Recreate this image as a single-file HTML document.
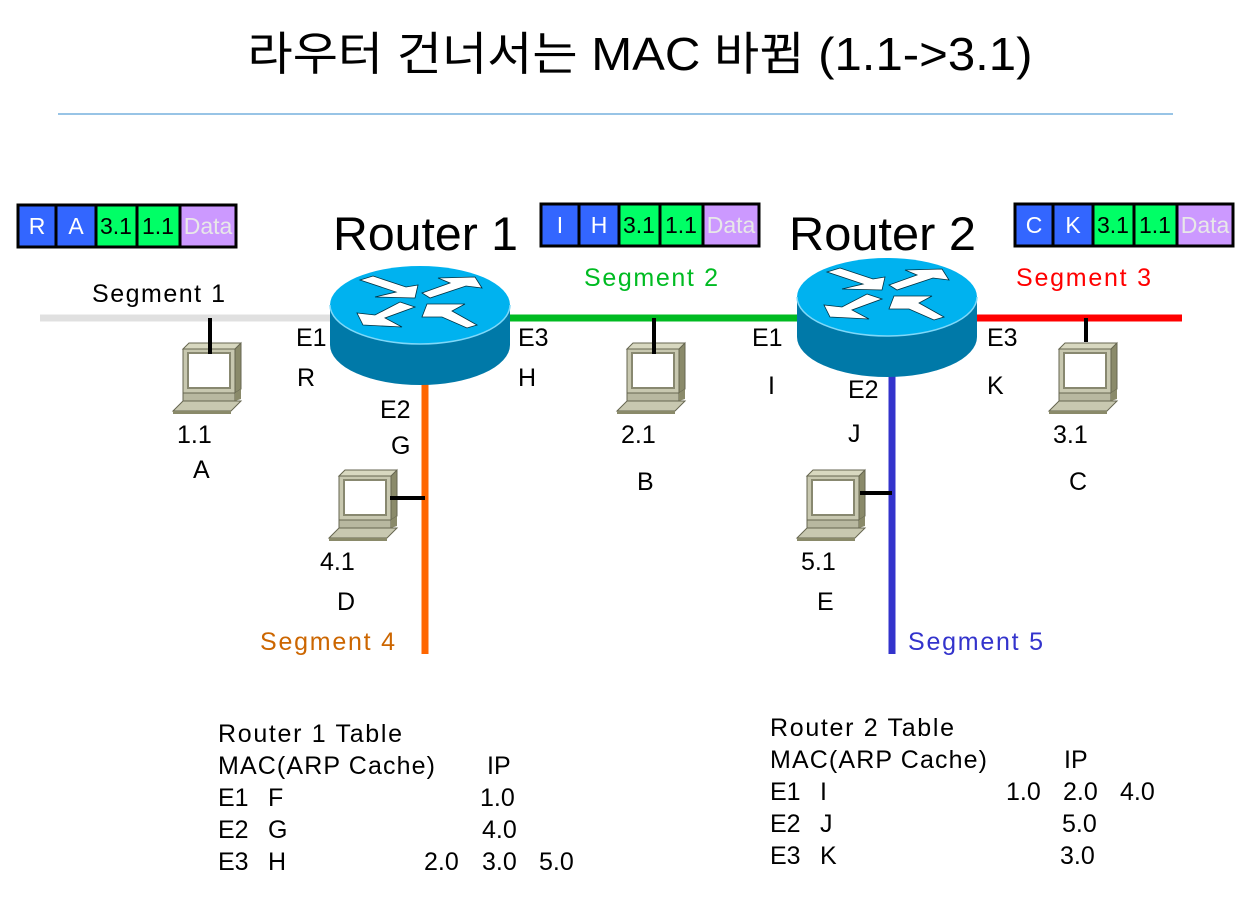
<!DOCTYPE html>
<html><head><meta charset="utf-8"><style>
html,body{margin:0;padding:0;background:#fff;}
svg{display:block;font-family:"Liberation Sans","Noto Sans CJK KR",sans-serif;}
</style></head><body>
<svg width="1260" height="919" viewBox="0 0 1260 919" xmlns="http://www.w3.org/2000/svg">
<defs>
<g id="pc">
  <polygon points="0,6 6,0 58,0 58,6" fill="#d8d8c0" stroke="#666650" stroke-width="1"/>
  <polygon points="52,6 58,0 58,46 52,50" fill="#8a8a6a" stroke="#666650" stroke-width="1"/>
  <rect x="0" y="6" width="52" height="44" fill="#c8c8b0" stroke="#666650" stroke-width="1"/>
  <rect x="5" y="10" width="42" height="35" fill="#fff" stroke="#888870" stroke-width="2"/>
  <rect x="0" y="50" width="52" height="8" fill="#b8b8a0" stroke="#666650" stroke-width="1"/>
  <polygon points="52,50 58,46 58,56 52,58" fill="#8a8a6a"/>
  <polygon points="-10,68 0,58 58,58 48,68" fill="#c8c8b0" stroke="#666650" stroke-width="1"/>
  <polygon points="-10,68 48,68 48,71 -10,71" fill="#8a8a6a"/>
</g>
<g id="router">
  <path d="M-90,0 L-90,40 A90,40 0 0 0 90,40 L90,0 Z" fill="#0079a8"/>
  <ellipse cx="0" cy="0" rx="90" ry="39" fill="#00b2ef"/>
  <path d="M-90,0 A90,39 0 0 0 90,0" fill="none" stroke="#7fd8f8" stroke-width="1.5"/>
  <g fill="#fff" stroke="#003040" stroke-width="0.8">
  <polygon points="-47,-29 -14,-18 -2,-20 -5,-7 -45,-8 -24,-13 -60,-25"/>
  <polygon points="2,-12 30,-22 18,-27 55,-28 62,-17 46,-19 10,-7"/>
  <polygon points="-20,-3 -5,2 -35,13 -18,22 -57,20 -63,8 -45,10"/>
  <polygon points="7,-1 45,-1 32,6 57,20 47,23 22,12 2,12"/>
  </g>
</g>
</defs>

<text x="640" y="70" font-size="46" text-anchor="middle" textLength="785" lengthAdjust="spacingAndGlyphs" fill="#000">라우터 건너서는 MAC 바뀜 (1.1-&gt;3.1)</text>
<line x1="58" y1="114" x2="1173" y2="114" stroke="#5aa0d8" stroke-width="1.2"/>

<line x1="40" y1="318" x2="340" y2="318" stroke="#e0e0e0" stroke-width="7"/>
<line x1="505" y1="318" x2="805" y2="318" stroke="#00bb22" stroke-width="7"/>
<line x1="970" y1="318" x2="1182" y2="318" stroke="#ff0000" stroke-width="7"/>
<line x1="425" y1="380" x2="425" y2="654" stroke="#ff6600" stroke-width="7"/>
<line x1="892" y1="370" x2="892" y2="654" stroke="#3333cc" stroke-width="7"/>

<use href="#router" x="420" y="305"/>
<use href="#router" x="887" y="297"/>

<use href="#pc" x="183" y="343"/>
<line x1="210" y1="318" x2="210" y2="354" stroke="#000" stroke-width="4"/>
<use href="#pc" x="627" y="343"/>
<line x1="654" y1="318" x2="654" y2="354" stroke="#000" stroke-width="4"/>
<use href="#pc" x="1059" y="343"/>
<line x1="1086" y1="318" x2="1086" y2="342" stroke="#000" stroke-width="4"/>
<use href="#pc" x="339" y="470"/>
<line x1="390" y1="498" x2="425" y2="498" stroke="#000" stroke-width="4"/>
<use href="#pc" x="807" y="470"/>
<line x1="860" y1="493" x2="892" y2="493" stroke="#000" stroke-width="4"/>

<g stroke="#000" stroke-width="3">
<g transform="translate(-523,1)">
<rect x="541" y="204" width="38" height="42" fill="#3366ff"/>
<rect x="579" y="204" width="40" height="42" fill="#3366ff"/>
<rect x="619" y="204" width="41" height="42" fill="#00ff66"/>
<rect x="660" y="204" width="43" height="42" fill="#00ff66"/>
<rect x="703" y="204" width="56" height="42" fill="#cc99ff"/>
</g>
<g>
<rect x="541" y="204" width="38" height="42" fill="#3366ff"/>
<rect x="579" y="204" width="40" height="42" fill="#3366ff"/>
<rect x="619" y="204" width="41" height="42" fill="#00ff66"/>
<rect x="660" y="204" width="43" height="42" fill="#00ff66"/>
<rect x="703" y="204" width="56" height="42" fill="#cc99ff"/>
</g>
<g transform="translate(474,0)">
<rect x="541" y="204" width="38" height="42" fill="#3366ff"/>
<rect x="579" y="204" width="40" height="42" fill="#3366ff"/>
<rect x="619" y="204" width="41" height="42" fill="#00ff66"/>
<rect x="660" y="204" width="43" height="42" fill="#00ff66"/>
<rect x="703" y="204" width="56" height="42" fill="#cc99ff"/>
</g>
</g>
<g font-size="23" text-anchor="middle">
<g transform="translate(-523,1)"><text x="560" y="233" fill="#fff">R</text><text x="599" y="233" fill="#fff">A</text><text x="639" y="233">3.1</text><text x="681" y="233">1.1</text><text x="731" y="233" fill="#e8e8e8">Data</text></g>
<g><text x="560" y="233" fill="#fff">I</text><text x="599" y="233" fill="#fff">H</text><text x="639" y="233">3.1</text><text x="681" y="233">1.1</text><text x="731" y="233" fill="#e8e8e8">Data</text></g>
<g transform="translate(474,0)"><text x="560" y="233" fill="#fff">C</text><text x="599" y="233" fill="#fff">K</text><text x="639" y="233">3.1</text><text x="681" y="233">1.1</text><text x="731" y="233" fill="#e8e8e8">Data</text></g>
</g>

<text x="333" y="250" font-size="47" textLength="185" lengthAdjust="spacingAndGlyphs">Router 1</text>
<text x="789" y="250" font-size="47" textLength="187" lengthAdjust="spacingAndGlyphs">Router 2</text>

<g font-size="25">
<text x="92" y="302" textLength="133">Segment 1</text>
<text x="584" y="286" fill="#00bb22" textLength="134">Segment 2</text>
<text x="1016" y="286" fill="#ff0000" textLength="135">Segment 3</text>
<text x="260" y="650" fill="#cc6600" textLength="135">Segment 4</text>
<text x="908" y="650" fill="#3333cc" textLength="135">Segment 5</text>

<text x="296" y="346">E1</text><text x="297" y="386">R</text>
<text x="518" y="346">E3</text><text x="518" y="386">H</text>
<text x="380" y="418">E2</text><text x="391" y="454">G</text>
<text x="752" y="346">E1</text><text x="768" y="394">I</text>
<text x="987" y="346">E3</text><text x="987" y="394">K</text>
<text x="848" y="398">E2</text><text x="848" y="442">J</text>

<text x="177" y="443">1.1</text><text x="193" y="478">A</text>
<text x="621" y="443">2.1</text><text x="637" y="490">B</text>
<text x="1053" y="443">3.1</text><text x="1069" y="490">C</text>
<text x="320" y="570">4.1</text><text x="337" y="610">D</text>
<text x="801" y="570">5.1</text><text x="817" y="610">E</text>

<text x="218" y="742" textLength="184">Router 1 Table</text>
<text x="218" y="774" textLength="217">MAC(ARP Cache)</text><text x="487" y="774">IP</text>
<text x="218" y="806">E1</text><text x="268" y="806">F</text><text x="480" y="806">1.0</text>
<text x="218" y="838">E2</text><text x="268" y="838">G</text><text x="482" y="838">4.0</text>
<text x="218" y="870">E3</text><text x="268" y="870">H</text><text x="424" y="870">2.0</text><text x="482" y="870">3.0</text><text x="539" y="870">5.0</text>

<text x="770" y="736" textLength="184">Router 2 Table</text>
<text x="770" y="768" textLength="217">MAC(ARP Cache)</text><text x="1064" y="768">IP</text>
<text x="770" y="800">E1</text><text x="820" y="800">I</text><text x="1006" y="800">1.0</text><text x="1063" y="800">2.0</text><text x="1120" y="800">4.0</text>
<text x="770" y="832">E2</text><text x="820" y="832">J</text><text x="1062" y="832">5.0</text>
<text x="770" y="864">E3</text><text x="820" y="864">K</text><text x="1060" y="864">3.0</text>
</g>
</svg>
</body></html>
